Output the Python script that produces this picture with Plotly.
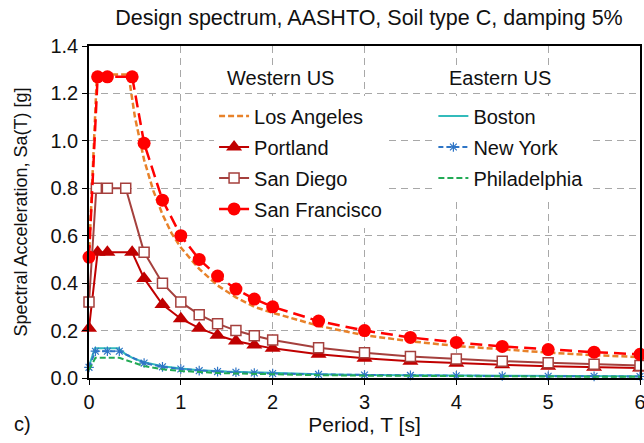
import plotly.graph_objects as go

# ---------------- data ----------------
T_west = [0, 0.094, 0.2, 0.47, 0.6, 0.8, 1.0, 1.2, 1.4, 1.6, 1.8, 2.0, 2.5, 3.0, 3.5, 4.0, 4.5, 5.0, 5.5, 6.0]
T_sd = [0, 0.08, 0.2, 0.4, 0.6, 0.8, 1.0, 1.2, 1.4, 1.6, 1.8, 2.0, 2.5, 3.0, 3.5, 4.0, 4.5, 5.0, 5.5, 6.0]
T_la = [0, 0.086, 0.2, 0.43, 0.5, 0.6, 0.7, 0.8, 0.9, 1.0, 1.2, 1.4, 1.6, 1.8, 2.0, 2.5, 3.0, 3.5, 4.0, 4.5, 5.0, 5.5, 6.0]
T_bos = [0, 0.064, 0.1, 0.2, 0.32, 0.4, 0.5, 0.6, 0.8, 1.0, 1.2, 1.5, 2.0, 2.5, 3.0, 4.0, 5.0, 6.0]
T_east = [0, 0.07, 0.2, 0.33, 0.6, 0.8, 1.0, 1.2, 1.4, 1.6, 1.8, 2.0, 2.5, 3.0, 3.5, 4.0, 4.5, 5.0, 5.5, 6.0]

los_angeles = [0.51, 1.28, 1.28, 1.28, 1.10, 0.92, 0.79, 0.69, 0.61, 0.55, 0.46, 0.39, 0.34, 0.30, 0.275,
               0.22, 0.18, 0.155, 0.135, 0.12, 0.107, 0.096, 0.088]
portland = [0.21, 0.53, 0.53, 0.53, 0.42, 0.31, 0.25, 0.21, 0.18, 0.156, 0.139, 0.125, 0.10, 0.083,
            0.071, 0.0625, 0.056, 0.05, 0.045, 0.042]
san_diego = [0.32, 0.80, 0.80, 0.80, 0.53, 0.40, 0.32, 0.267, 0.229, 0.20, 0.178, 0.16, 0.128, 0.107,
             0.091, 0.08, 0.071, 0.064, 0.058, 0.053]
san_francisco = [0.51, 1.27, 1.27, 1.27, 0.99, 0.75, 0.60, 0.50, 0.43, 0.375, 0.333, 0.30, 0.24, 0.20,
                 0.171, 0.15, 0.133, 0.12, 0.109, 0.10]
boston = [0.05, 0.125, 0.125, 0.125, 0.125, 0.10, 0.08, 0.067, 0.05, 0.04, 0.033, 0.027, 0.02, 0.016,
          0.013, 0.01, 0.008, 0.007]
new_york = [0.045, 0.113, 0.113, 0.113, 0.063, 0.047, 0.038, 0.031, 0.027, 0.024, 0.021, 0.019, 0.015,
            0.0125, 0.011, 0.0095, 0.0085, 0.0075, 0.007, 0.0063]
philadelphia = [0.034, 0.085, 0.085, 0.085, 0.05, 0.037, 0.03, 0.025, 0.021, 0.019, 0.017, 0.015, 0.012,
                0.01, 0.0086, 0.0075, 0.0067, 0.006, 0.0055, 0.005]

x_ticks = [0, 1, 2, 3, 4, 5, 6]
y_ticks = [0.0, 0.2, 0.4, 0.6, 0.8, 1.0, 1.2, 1.4]

FONT = "Liberation Sans, Arial, sans-serif"
TXT = "#111111"

fig = go.Figure()

def add(name, x, y, color, dash, legend, group, width=2, marker=None):
    kw = dict(x=x, y=y, name=name, legend=legend, legendgroup=group, cliponaxis=False,
              line=dict(color=color, width=width, dash=dash))
    if marker:
        kw["mode"] = "lines+markers"
        kw["marker"] = marker
    else:
        kw["mode"] = "lines"
    fig.add_trace(go.Scatter(**kw))

add("Los Angeles", T_la, los_angeles, "#E8822A", "6px,3px", "legend", "a", width=2.5)
add("Portland", T_west, portland, "#C00000", "solid", "legend", "b",
    marker=dict(symbol="triangle-up", size=14, color="#C00000"))
add("San Diego", T_sd, san_diego, "#A5403D", "solid", "legend", "c",
    marker=dict(symbol="square", size=10, color="white", line=dict(color="#A5403D", width=1.5)))
add("San Francisco", T_west, san_francisco, "#FF0000", "12px,6px", "legend", "d", width=2.5,
    marker=dict(symbol="circle", size=13, color="#FF0000"))
add("Boston", T_bos, boston, "#33BBBB", "solid", "legend2", "e")
add("New York", T_east, new_york, "#2E75C6", "5px,3px", "legend2", "f",
    marker=dict(symbol="asterisk-open", size=8, color="#2E75C6", line=dict(color="#2E75C6", width=1.2)))
add("Philadelphia", T_east, philadelphia, "#22AA55", "6px,3px", "legend2", "g")

axis_common = dict(showline=True, linecolor="black", linewidth=1.5, mirror=True,
                   ticks="outside", ticklen=5, tickcolor="black", automargin=False,
                   ticklabeloverflow="allow",
                   showgrid=True, gridcolor="#A8A8A8", griddash="7px,5px", gridwidth=1,
                   zeroline=False, tickfont=dict(size=20, color=TXT, family=FONT))

fig.update_xaxes(range=[0, 6], tickvals=x_ticks,
                 title=dict(text="Period, T [s]", font=dict(size=21, color=TXT, family=FONT), standoff=2),
                 **axis_common)
fig.update_yaxes(range=[0, 1.4], tickvals=y_ticks, tickformat=".1f",
                 title=dict(text="Spectral Acceleration, Sa(T) [g]",
                            font=dict(size=18, color=TXT, family=FONT), standoff=18),
                 **axis_common)

leg_common = dict(bgcolor="white", borderwidth=0, font=dict(size=20, color=TXT, family=FONT),
                  tracegroupgap=2, xanchor="left", yanchor="top", itemwidth=30)

fig.update_layout(
    width=644, height=443,
    margin=dict(l=89, r=4, t=46, b=65),
    plot_bgcolor="white", paper_bgcolor="white",
    font=dict(family=FONT, color=TXT),
    title=dict(text="Design spectrum, AASHTO, Soil type C, damping 5%", x=0.573, xanchor="center",
               y=0.96, yanchor="middle", font=dict(size=21.5, color=TXT, family=FONT)),
    legend=dict(x=0.227, y=0.848, **leg_common),
    legend2=dict(x=0.625, y=0.848, **leg_common),
    annotations=[
        dict(text="Western US", xref="paper", yref="paper", x=0.347, y=0.904, xanchor="center",
             yanchor="middle", showarrow=False, bgcolor="white",
             font=dict(size=20, color=TXT, family=FONT)),
        dict(text="Eastern US", xref="paper", yref="paper", x=0.746, y=0.904, xanchor="center",
             yanchor="middle", showarrow=False, bgcolor="white",
             font=dict(size=20, color=TXT, family=FONT)),
        dict(text="c)", xref="paper", yref="paper", x=-0.14, y=-0.14, xanchor="left",
             yanchor="middle", showarrow=False, font=dict(size=20, color=TXT, family=FONT)),
    ],
)

fig.write_html("out.html", config={"displayModeBar": False},
               post_script="document.body.style.margin='0px';")
